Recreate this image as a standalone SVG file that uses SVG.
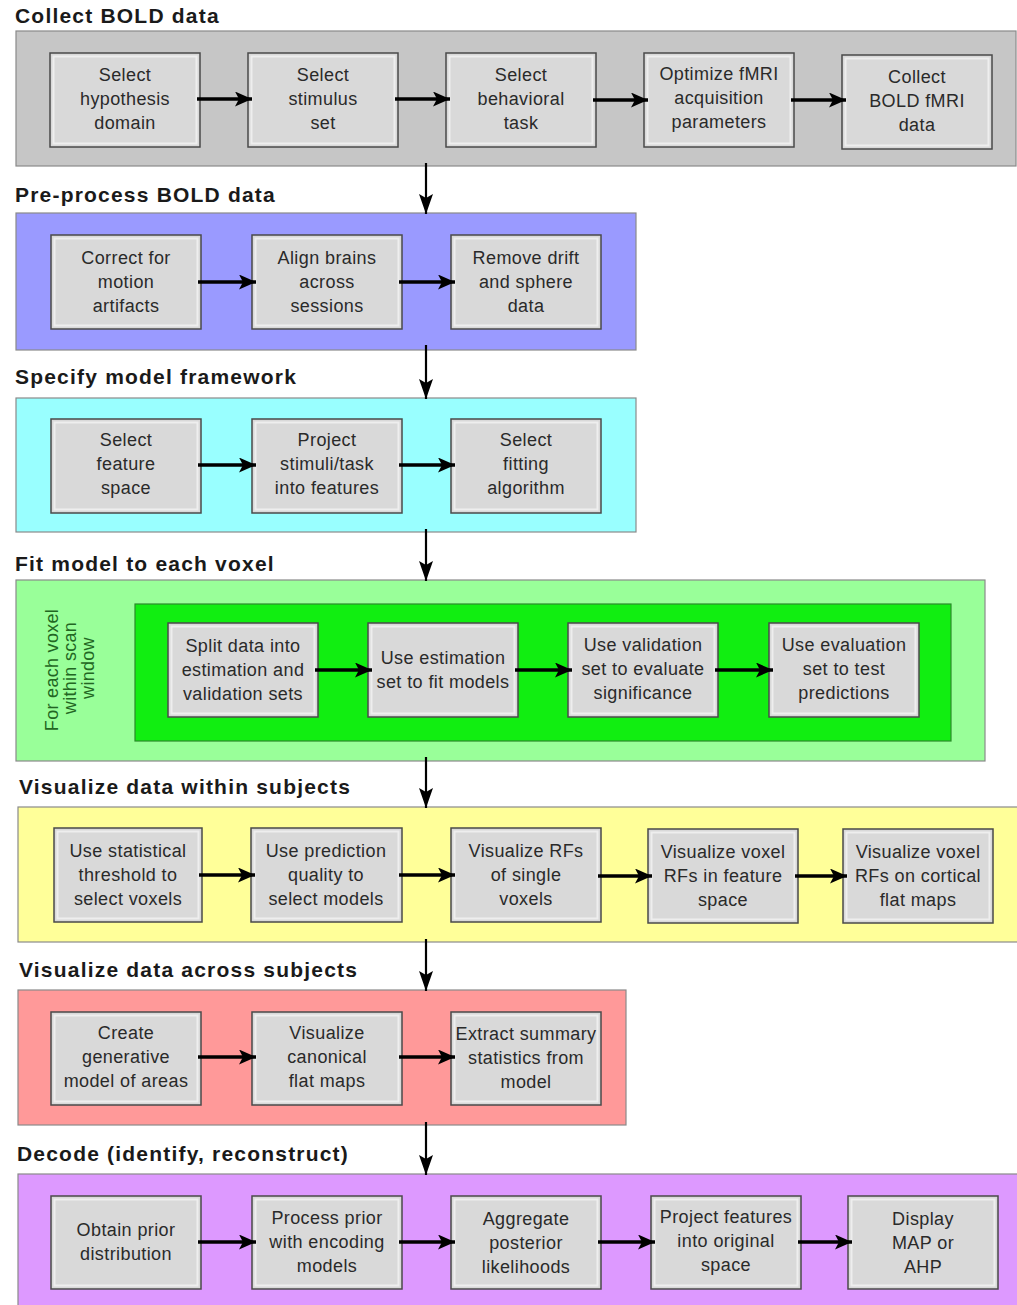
<svg xmlns="http://www.w3.org/2000/svg" width="1017" height="1305" viewBox="0 0 1017 1305">
<style>
.title{font-family:"Liberation Sans",Arial,sans-serif;font-size:21px;font-weight:bold;letter-spacing:1.2px;fill:#1a1a1a}
.lbl{font-family:"Liberation Sans",Arial,sans-serif;font-size:18px;letter-spacing:0.4px;fill:#2a2a2a;text-anchor:middle}
.vlbl{font-family:"Liberation Sans",Arial,sans-serif;font-size:18px;letter-spacing:0.3px;fill:#226622;text-anchor:middle}
.panel{stroke:#8a8a8a;stroke-width:1.2}
.box{fill:#d9d9d9;stroke:#4a4a4a;stroke-width:1.5}
.inner{fill:none;stroke:#eeeeee;stroke-width:2}
.harrow{stroke:#000;stroke-width:3.5;fill:none;marker-end:url(#hh)}
.varrow{stroke:#000;stroke-width:2.2;fill:none;marker-end:url(#vh)}
</style>
<defs>
<marker id="hh" markerUnits="userSpaceOnUse" markerWidth="17" markerHeight="15" refX="17" refY="7.5" orient="auto"><path d="M0,0 L17,7.5 L0,15 L4,7.5 Z" fill="#000"/></marker>
<marker id="vh" markerUnits="userSpaceOnUse" markerWidth="20" markerHeight="14" refX="20" refY="7" orient="auto"><path d="M0,0 L20,7 L0,14 L4,7 Z" fill="#000"/></marker>
</defs>
<rect width="1017" height="1305" fill="#ffffff"/>

<!-- Section 1 -->
<g id="sec1">
<text class="title" x="15" y="23">Collect BOLD data</text>
<rect class="panel" x="16" y="31" width="1000" height="135" fill="#c6c6c6"/>
</g>
<g id="n1_1"><rect class="box" x="50" y="53" width="150" height="94"/><rect class="inner" x="53.5" y="56.5" width="143" height="87"/>
<text class="lbl" x="125" y="81">Select</text><text class="lbl" x="125" y="105">hypothesis</text><text class="lbl" x="125" y="129">domain</text></g>
<g id="n1_2"><rect class="box" x="248" y="53" width="150" height="94"/><rect class="inner" x="251.5" y="56.5" width="143" height="87"/>
<text class="lbl" x="323" y="81">Select</text><text class="lbl" x="323" y="105">stimulus</text><text class="lbl" x="323" y="129">set</text></g>
<g id="n1_3"><rect class="box" x="446" y="53" width="150" height="94"/><rect class="inner" x="449.5" y="56.5" width="143" height="87"/>
<text class="lbl" x="521" y="81">Select</text><text class="lbl" x="521" y="105">behavioral</text><text class="lbl" x="521" y="129">task</text></g>
<g id="n1_4"><rect class="box" x="644" y="53" width="150" height="94"/><rect class="inner" x="647.5" y="56.5" width="143" height="87"/>
<text class="lbl" x="719" y="80">Optimize fMRI</text><text class="lbl" x="719" y="104">acquisition</text><text class="lbl" x="719" y="128">parameters</text></g>
<g id="n1_5"><rect class="box" x="842" y="55" width="150" height="94"/><rect class="inner" x="845.5" y="58.5" width="143" height="87"/>
<text class="lbl" x="917" y="83">Collect</text><text class="lbl" x="917" y="107">BOLD fMRI</text><text class="lbl" x="917" y="131">data</text></g>

<!-- Section 2 -->
<g id="sec2">
<text class="title" x="15" y="202">Pre-process BOLD data</text>
<rect class="panel" x="16" y="213" width="620" height="137" fill="#9a9aff"/>
</g>
<g id="n2_1"><rect class="box" x="51" y="235" width="150" height="94"/><rect class="inner" x="54.5" y="238.5" width="143" height="87"/>
<text class="lbl" x="126" y="264">Correct for</text><text class="lbl" x="126" y="288">motion</text><text class="lbl" x="126" y="312">artifacts</text></g>
<g id="n2_2"><rect class="box" x="252" y="235" width="150" height="94"/><rect class="inner" x="255.5" y="238.5" width="143" height="87"/>
<text class="lbl" x="327" y="264">Align brains</text><text class="lbl" x="327" y="288">across</text><text class="lbl" x="327" y="312">sessions</text></g>
<g id="n2_3"><rect class="box" x="451" y="235" width="150" height="94"/><rect class="inner" x="454.5" y="238.5" width="143" height="87"/>
<text class="lbl" x="526" y="264">Remove drift</text><text class="lbl" x="526" y="288">and sphere</text><text class="lbl" x="526" y="312">data</text></g>

<!-- Section 3 -->
<g id="sec3">
<text class="title" x="15" y="384">Specify model framework</text>
<rect class="panel" x="16" y="398" width="620" height="134" fill="#99ffff"/>
</g>
<g id="n3_1"><rect class="box" x="51" y="419" width="150" height="94"/><rect class="inner" x="54.5" y="422.5" width="143" height="87"/>
<text class="lbl" x="126" y="446">Select</text><text class="lbl" x="126" y="470">feature</text><text class="lbl" x="126" y="494">space</text></g>
<g id="n3_2"><rect class="box" x="252" y="419" width="150" height="94"/><rect class="inner" x="255.5" y="422.5" width="143" height="87"/>
<text class="lbl" x="327" y="446">Project</text><text class="lbl" x="327" y="470">stimuli/task</text><text class="lbl" x="327" y="494">into features</text></g>
<g id="n3_3"><rect class="box" x="451" y="419" width="150" height="94"/><rect class="inner" x="454.5" y="422.5" width="143" height="87"/>
<text class="lbl" x="526" y="446">Select</text><text class="lbl" x="526" y="470">fitting</text><text class="lbl" x="526" y="494">algorithm</text></g>

<!-- Section 4 -->
<g id="sec4">
<text class="title" x="15" y="571">Fit model to each voxel</text>
<rect class="panel" x="16" y="580" width="969" height="181" fill="#99ff99"/>
<rect x="135" y="604" width="816" height="137" fill="#11ee11" stroke="#2a8a2a" stroke-width="1.2"/>
<text class="vlbl" transform="translate(58,670) rotate(-90)">For each voxel</text>
<text class="vlbl" transform="translate(76,668) rotate(-90)">within scan</text>
<text class="vlbl" transform="translate(94,668) rotate(-90)">window</text>
</g>
<g id="n4_1"><rect class="box" x="168" y="623" width="150" height="94"/><rect class="inner" x="171.5" y="626.5" width="143" height="87"/>
<text class="lbl" x="243" y="652">Split data into</text><text class="lbl" x="243" y="676">estimation and</text><text class="lbl" x="243" y="700">validation sets</text></g>
<g id="n4_2"><rect class="box" x="368" y="623" width="150" height="94"/><rect class="inner" x="371.5" y="626.5" width="143" height="87"/>
<text class="lbl" x="443" y="664">Use estimation</text><text class="lbl" x="443" y="688">set to fit models</text></g>
<g id="n4_3"><rect class="box" x="568" y="623" width="150" height="94"/><rect class="inner" x="571.5" y="626.5" width="143" height="87"/>
<text class="lbl" x="643" y="651">Use validation</text><text class="lbl" x="643" y="675">set to evaluate</text><text class="lbl" x="643" y="699">significance</text></g>
<g id="n4_4"><rect class="box" x="769" y="623" width="150" height="94"/><rect class="inner" x="772.5" y="626.5" width="143" height="87"/>
<text class="lbl" x="844" y="651">Use evaluation</text><text class="lbl" x="844" y="675">set to test</text><text class="lbl" x="844" y="699">predictions</text></g>

<!-- Section 5 -->
<g id="sec5">
<text class="title" x="19" y="794">Visualize data within subjects</text>
<rect class="panel" x="18" y="807" width="1000" height="135" fill="#ffff99"/>
</g>
<g id="n5_1"><rect class="box" x="54" y="828" width="148" height="94"/><rect class="inner" x="57.5" y="831.5" width="141" height="87"/>
<text class="lbl" x="128" y="857">Use statistical</text><text class="lbl" x="128" y="881">threshold to</text><text class="lbl" x="128" y="905">select voxels</text></g>
<g id="n5_2"><rect class="box" x="251" y="828" width="151" height="94"/><rect class="inner" x="254.5" y="831.5" width="144" height="87"/>
<text class="lbl" x="326" y="857">Use prediction</text><text class="lbl" x="326" y="881">quality to</text><text class="lbl" x="326" y="905">select models</text></g>
<g id="n5_3"><rect class="box" x="451" y="828" width="150" height="94"/><rect class="inner" x="454.5" y="831.5" width="143" height="87"/>
<text class="lbl" x="526" y="857">Visualize RFs</text><text class="lbl" x="526" y="881">of single</text><text class="lbl" x="526" y="905">voxels</text></g>
<g id="n5_4"><rect class="box" x="648" y="829" width="150" height="94"/><rect class="inner" x="651.5" y="832.5" width="143" height="87"/>
<text class="lbl" x="723" y="858">Visualize voxel</text><text class="lbl" x="723" y="882">RFs in feature</text><text class="lbl" x="723" y="906">space</text></g>
<g id="n5_5"><rect class="box" x="843" y="829" width="150" height="94"/><rect class="inner" x="846.5" y="832.5" width="143" height="87"/>
<text class="lbl" x="918" y="858">Visualize voxel</text><text class="lbl" x="918" y="882">RFs on cortical</text><text class="lbl" x="918" y="906">flat maps</text></g>

<!-- Section 6 -->
<g id="sec6">
<text class="title" x="19" y="977">Visualize data across subjects</text>
<rect class="panel" x="18" y="990" width="608" height="135" fill="#ff9999"/>
</g>
<g id="n6_1"><rect class="box" x="51" y="1012" width="150" height="93"/><rect class="inner" x="54.5" y="1015.5" width="143" height="86"/>
<text class="lbl" x="126" y="1039">Create</text><text class="lbl" x="126" y="1063">generative</text><text class="lbl" x="126" y="1087">model of areas</text></g>
<g id="n6_2"><rect class="box" x="252" y="1012" width="150" height="93"/><rect class="inner" x="255.5" y="1015.5" width="143" height="86"/>
<text class="lbl" x="327" y="1039">Visualize</text><text class="lbl" x="327" y="1063">canonical</text><text class="lbl" x="327" y="1087">flat maps</text></g>
<g id="n6_3"><rect class="box" x="451" y="1012" width="150" height="93"/><rect class="inner" x="454.5" y="1015.5" width="143" height="86"/>
<text class="lbl" x="526" y="1040">Extract summary</text><text class="lbl" x="526" y="1064">statistics from</text><text class="lbl" x="526" y="1088">model</text></g>

<!-- Section 7 -->
<g id="sec7">
<text class="title" x="17" y="1161">Decode (identify, reconstruct)</text>
<rect class="panel" x="18" y="1174" width="1000" height="135" fill="#dd99ff"/>
</g>
<g id="n7_1"><rect class="box" x="51" y="1196" width="150" height="93"/><rect class="inner" x="54.5" y="1199.5" width="143" height="86"/>
<text class="lbl" x="126" y="1236">Obtain prior</text><text class="lbl" x="126" y="1260">distribution</text></g>
<g id="n7_2"><rect class="box" x="252" y="1196" width="150" height="93"/><rect class="inner" x="255.5" y="1199.5" width="143" height="86"/>
<text class="lbl" x="327" y="1224">Process prior</text><text class="lbl" x="327" y="1248">with encoding</text><text class="lbl" x="327" y="1272">models</text></g>
<g id="n7_3"><rect class="box" x="451" y="1196" width="150" height="93"/><rect class="inner" x="454.5" y="1199.5" width="143" height="86"/>
<text class="lbl" x="526" y="1225">Aggregate</text><text class="lbl" x="526" y="1249">posterior</text><text class="lbl" x="526" y="1273">likelihoods</text></g>
<g id="n7_4"><rect class="box" x="651" y="1196" width="150" height="93"/><rect class="inner" x="654.5" y="1199.5" width="143" height="86"/>
<text class="lbl" x="726" y="1223">Project features</text><text class="lbl" x="726" y="1247">into original</text><text class="lbl" x="726" y="1271">space</text></g>
<g id="n7_5"><rect class="box" x="848" y="1196" width="150" height="93"/><rect class="inner" x="851.5" y="1199.5" width="143" height="86"/>
<text class="lbl" x="923" y="1225">Display</text><text class="lbl" x="923" y="1249">MAP or</text><text class="lbl" x="923" y="1273">AHP</text></g>

<g id="connectors">
<line class="harrow" x1="197" y1="99" x2="252" y2="99"/>
<line class="harrow" x1="395" y1="99" x2="450" y2="99"/>
<line class="harrow" x1="593" y1="100" x2="648" y2="100"/>
<line class="harrow" x1="791" y1="100" x2="846" y2="100"/>
<line class="harrow" x1="198" y1="282" x2="256" y2="282"/>
<line class="harrow" x1="399" y1="282" x2="455" y2="282"/>
<line class="harrow" x1="198" y1="465" x2="256" y2="465"/>
<line class="harrow" x1="399" y1="465" x2="455" y2="465"/>
<line class="harrow" x1="315" y1="670" x2="372" y2="670"/>
<line class="harrow" x1="515" y1="670" x2="572" y2="670"/>
<line class="harrow" x1="715" y1="670" x2="773" y2="670"/>
<line class="harrow" x1="199" y1="875" x2="255" y2="875"/>
<line class="harrow" x1="399" y1="875" x2="455" y2="875"/>
<line class="harrow" x1="598" y1="876" x2="652" y2="876"/>
<line class="harrow" x1="795" y1="876" x2="847" y2="876"/>
<line class="harrow" x1="198" y1="1057" x2="256" y2="1057"/>
<line class="harrow" x1="399" y1="1057" x2="455" y2="1057"/>
<line class="harrow" x1="198" y1="1242" x2="256" y2="1242"/>
<line class="harrow" x1="399" y1="1242" x2="455" y2="1242"/>
<line class="harrow" x1="598" y1="1242" x2="655" y2="1242"/>
<line class="harrow" x1="798" y1="1242" x2="852" y2="1242"/>
<line class="varrow" x1="426" y1="163" x2="426" y2="214"/>
<line class="varrow" x1="426" y1="345" x2="426" y2="399"/>
<line class="varrow" x1="426" y1="529" x2="426" y2="581"/>
<line class="varrow" x1="426" y1="757" x2="426" y2="808"/>
<line class="varrow" x1="426" y1="939" x2="426" y2="991"/>
<line class="varrow" x1="426" y1="1122" x2="426" y2="1175"/>
</g>
</svg>
